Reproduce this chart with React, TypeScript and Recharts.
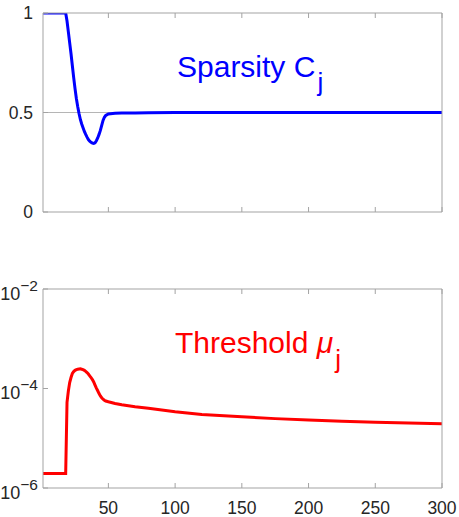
import React from 'react';
import { LineChart, Line, XAxis, YAxis, ReferenceLine } from 'recharts';

const xValues = [
  1, 5, 10, 15, 18, 19, 20, 21, 22, 23, 24, 25, 26, 27, 28, 29, 30, 31, 32, 33, 34, 35, 36, 37, 38, 39, 40,
  41, 42, 43, 44, 45, 46, 47, 48, 50, 55, 60, 70, 80, 100, 120, 150, 175, 200, 225, 250, 275, 300,
];

const sparsity = [
  1, 1, 1, 1, 1, 0.96, 0.905, 0.85, 0.795, 0.735, 0.675, 0.62, 0.57, 0.53, 0.495, 0.465, 0.442, 0.423, 0.405,
  0.39, 0.376, 0.364, 0.356, 0.35, 0.346, 0.345, 0.348, 0.358, 0.372, 0.39, 0.41, 0.435, 0.46, 0.476, 0.485,
  0.493, 0.496, 0.497, 0.498, 0.499, 0.5, 0.5, 0.5, 0.5, 0.5, 0.5, 0.5, 0.5, 0.5,
];

const threshold = [
  1.95e-6, 1.95e-6, 1.95e-6, 1.95e-6, 1.95e-6, 5.25e-5, 8.9e-5, 1.32e-4, 1.66e-4, 2.0e-4, 2.19e-4, 2.32e-4,
  2.4e-4, 2.44e-4, 2.47e-4, 2.48e-4, 2.44e-4, 2.4e-4, 2.32e-4, 2.21e-4, 2.09e-4, 1.95e-4, 1.8e-4, 1.66e-4,
  1.51e-4, 1.35e-4, 1.17e-4, 1.02e-4, 9.0e-5, 7.9e-5, 7.1e-5, 6.5e-5, 6.1e-5, 5.8e-5, 5.6e-5, 5.4e-5, 5.0e-5,
  4.7e-5, 4.3e-5, 4.0e-5, 3.4e-5, 3.0e-5, 2.7e-5, 2.48e-5, 2.32e-5, 2.19e-5, 2.09e-5, 2.02e-5, 1.96e-5,
];

const xTicks = [50, 100, 150, 200, 250, 300];
const sparsityTicks = [0, 0.5, 1];
const thresholdTicks = [1e-6, 1e-4, 1e-2];
const thresholdExponents = ['−6', '−4', '−2'];

const sparsityData = xValues.map((x, i) => ({ x, c: sparsity[i] }));
const thresholdData = xValues.map((x, i) => ({ x, mu: threshold[i] }));

const AXIS = '#a3a3a3';
const TEXT = '#262626';
const FONT = '"Liberation Sans", Arial, Helvetica, sans-serif';

const EmptyTick = () => <g />;

const LogTick = (props: any) => {
  const { x, y, payload } = props;
  const idx = thresholdTicks.indexOf(payload.value);
  const exp = idx >= 0 ? thresholdExponents[idx] : '';
  return (
    <text x={x} y={y + 10.5} textAnchor="end" fill={TEXT} fontSize={18} fontFamily={FONT}>
      <tspan>10</tspan>
      <tspan dy={-9} fontSize={15.5}>{exp}</tspan>
    </text>
  );
};

export default function App() {
  return (
    <div style={{ position: 'absolute', left: 0, top: 0, width: 459, height: 517, background: '#fff', fontFamily: FONT }}>
      <LineChart width={459} height={230} data={sparsityData} margin={{ top: 12, right: 16, bottom: 17, left: 0 }}>
        <XAxis
          dataKey="x"
          type="number"
          domain={[1, 300]}
          allowDataOverflow
          ticks={xTicks}
          interval={0}
          height={1}
          tickSize={-5}
          stroke={AXIS}
          tick={EmptyTick}
        />
        <XAxis
          xAxisId="top"
          orientation="top"
          dataKey="x"
          type="number"
          domain={[1, 300]}
          allowDataOverflow
          ticks={xTicks}
          interval={0}
          height={1}
          tickSize={-5}
          stroke={AXIS}
          tick={EmptyTick}
        />
        <YAxis
          type="number"
          domain={[0, 1]}
          allowDataOverflow
          ticks={sparsityTicks}
          interval={0}
          width={43}
          tickSize={-5}
          tickMargin={15}
          stroke={AXIS}
          tick={{ fill: TEXT, fontSize: 17.5, fontFamily: FONT }}
        />
        <YAxis
          yAxisId="right"
          orientation="right"
          type="number"
          domain={[0, 1]}
          width={1}
          tickLine={false}
          tick={EmptyTick}
          stroke={AXIS}
        />
        <ReferenceLine y={0.5} stroke="#b5b5b5" strokeWidth={1} />
        <Line
          dataKey="c"
          type="linear"
          stroke="#0000ff"
          strokeWidth={3}
          dot={false}
          isAnimationActive={false}
        />
      </LineChart>
      <LineChart width={459} height={287} data={thresholdData} margin={{ top: 58, right: 16, bottom: 1, left: 0 }}>
        <XAxis
          dataKey="x"
          type="number"
          domain={[1, 300]}
          allowDataOverflow
          ticks={xTicks}
          interval={0}
          height={28}
          tickSize={-5}
          tickMargin={19}
          stroke={AXIS}
          tick={{ fill: TEXT, fontSize: 17.5, fontFamily: FONT }}
        />
        <XAxis
          xAxisId="top"
          orientation="top"
          dataKey="x"
          type="number"
          domain={[1, 300]}
          allowDataOverflow
          ticks={xTicks}
          interval={0}
          height={1}
          tickSize={-5}
          stroke={AXIS}
          tick={EmptyTick}
        />
        <YAxis
          type="number"
          scale="log"
          domain={[1e-6, 1e-2]}
          allowDataOverflow
          ticks={thresholdTicks}
          interval={0}
          width={43}
          tickSize={-5}
          tickMargin={10}
          stroke={AXIS}
          tick={LogTick}
        />
        <YAxis
          yAxisId="right"
          orientation="right"
          type="number"
          domain={[0, 1]}
          width={1}
          tickLine={false}
          tick={EmptyTick}
          stroke={AXIS}
        />
        <Line
          dataKey="mu"
          type="linear"
          stroke="#ff0000"
          strokeWidth={3}
          dot={false}
          isAnimationActive={false}
        />
      </LineChart>
      <svg
        width={459}
        height={517}
        style={{ position: 'absolute', left: 0, top: 0, pointerEvents: 'none' }}
      >
        <text x={177} y={77} fontSize={30} fill="#0000ff" fontFamily={FONT}>
          Sparsity C
          <tspan dx={2} dy={14} fontSize={26}>j</tspan>
        </text>
        <text x={175} y={353} fontSize={30} fill="#ff0000" fontFamily={FONT}>
          Threshold <tspan fontStyle="italic">μ</tspan>
          <tspan dx={2} dy={14.5} fontSize={26}>j</tspan>
        </text>
      </svg>
    </div>
  );
}
